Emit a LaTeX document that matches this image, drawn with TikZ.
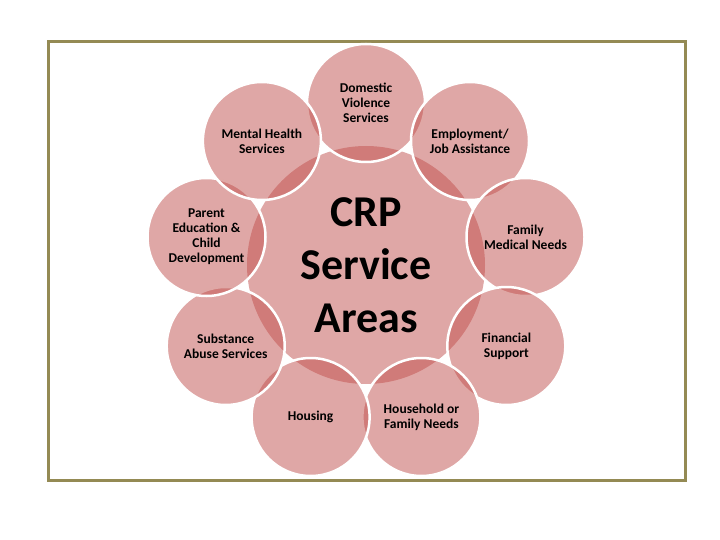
\documentclass[tikz,border=0pt]{standalone}
\usepackage{fontspec}
\setmainfont{Carlito}
\definecolor{petalc}{RGB}{192,80,77}
\definecolor{framec}{RGB}{148,138,84}
\begin{document}
\begin{tikzpicture}[x=1pt,y=-1pt,
  disc/.style={circle, inner sep=0pt, fill=petalc, fill opacity=0.5, text opacity=1,
    align=center, text=black},
  petal/.style={disc, draw=white, draw opacity=1, line width=2.5pt, minimum size=118pt,
    font=\fontsize{13.5}{15}\selectfont\bfseries},
  hub/.style={disc, minimum size=238pt, font=\fontsize{44}{53}\selectfont\bfseries},
  framebox/.style={draw=framec, line width=3pt}
]
\useasboundingbox (0,0) rectangle (720,540);
\draw[framebox] (48,42) rectangle (685,480);
\node[hub] (hub) at (366,265) {CRP\\Service\\Areas};
\node[petal] (dv)  at (366,103)   {Domestic\\Violence\\Services};
\node[petal] (emp) at (470,141)   {Employment/\\Job Assistance};
\node[petal] (fm)  at (525.5,237) {Family\\Medical Needs};
\node[petal] (fin) at (506.3,346) {Financial\\Support};
\node[petal] (hh)  at (421.4,417) {Household or\\Family Needs};
\node[petal] (hou) at (310.6,417) {Housing};
\node[petal] (sub) at (225.7,346) {Substance\\Abuse Services};
\node[petal] (par) at (206.5,237) {Parent\\Education \&\\Child\\Development};
\node[petal] (mh)  at (261.9,141) {Mental Health\\Services};
\end{tikzpicture}
\end{document}
